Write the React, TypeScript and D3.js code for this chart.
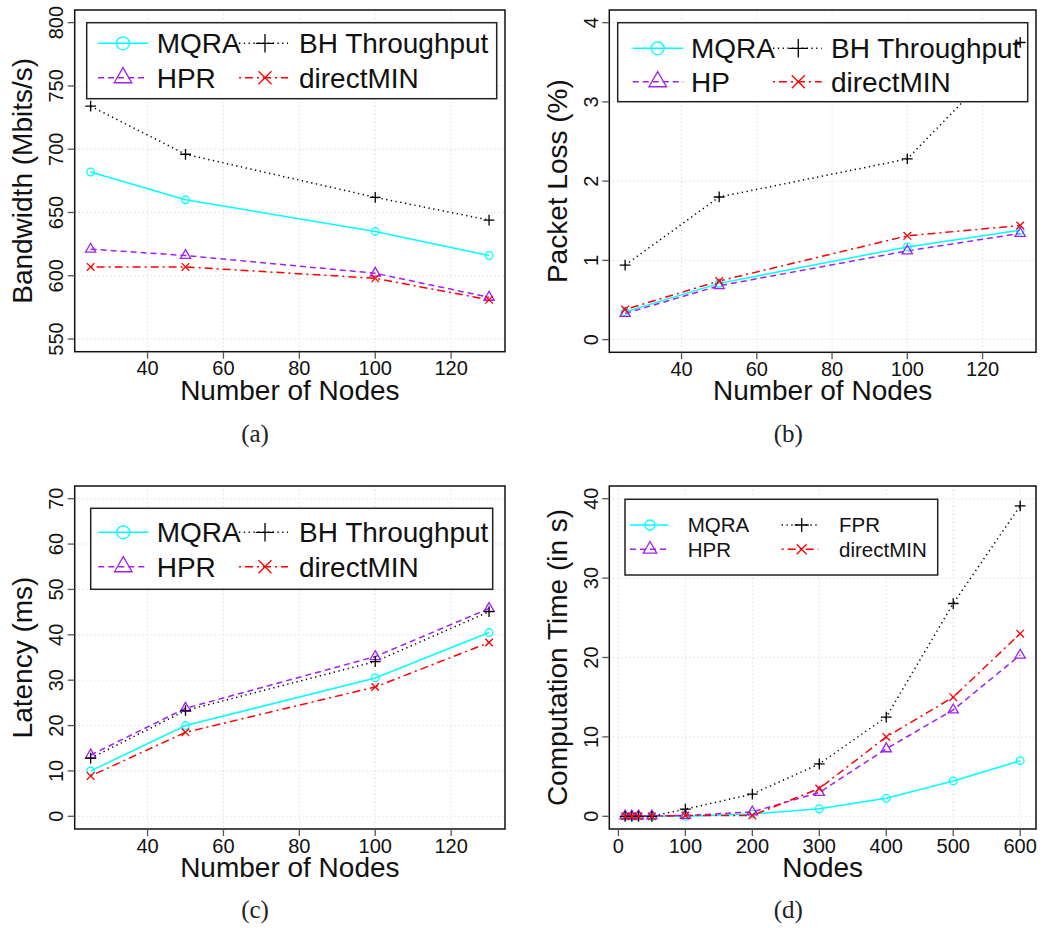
import React from "react";
import * as d3 from "d3";

// ---------- data ----------
const nodes = [25, 50, 100, 130];
const nodesComp = [10, 20, 30, 50, 100, 200, 300, 400, 500, 600];

const bwMQRA = [682, 660, 635, 616];
const bwHPR = [621, 616, 602, 583];
const bwBH = [734, 696, 662, 644];
const bwDirectMIN = [607, 607, 598, 581];

const plMQRA = [0.35, 0.71, 1.17, 1.38];
const plHP = [0.33, 0.68, 1.12, 1.34];
const plBH = [0.94, 1.8, 2.28, 3.75];
const plDirectMIN = [0.38, 0.74, 1.31, 1.44];

const latMQRA = [10, 20, 30.5, 40.5];
const latHPR = [13.5, 23.8, 35.2, 45.8];
const latBH = [12.8, 23.3, 34.1, 45.1];
const latDirectMIN = [8.9, 18.5, 28.5, 38.3];

const ctMQRA = [0, 0, 0, 0, 0, 0.3, 0.95, 2.27, 4.45, 7.0];
const ctHPR = [0.05, 0.05, 0.05, 0.05, 0.1, 0.55, 3.0, 8.5, 13.4, 20.3];
const ctFPR = [0, 0, 0, 0, 0.9, 2.8, 6.6, 12.5, 26.8, 39.1];
const ctDirectMIN = [0, 0, 0, 0, 0.1, 0.1, 3.5, 10.0, 15.0, 23.0];

const xTicksNodes = [40, 60, 80, 100, 120];
const xTicksComp = [0, 100, 200, 300, 400, 500, 600];
const yTicksBW = [550, 600, 650, 700, 750, 800];
const yTicksPL = [0, 1, 2, 3, 4];
const yTicksLat = [0, 10, 20, 30, 40, 50, 60, 70];
const yTicksCT = [0, 10, 20, 30, 40];

// ---------- styles ----------
const STY = {
  mqra: { color: "#00FFFF", dash: "none", shape: "circle" },
  hpr: { color: "#A020F0", dash: "6,4", shape: "triangle" },
  bh: { color: "#000000", dash: "1.3,3.5", shape: "plus" },
  dm: { color: "#FF0000", dash: "2,4,8,4", shape: "cross" },
};

type Shape = "circle" | "triangle" | "plus" | "cross";

function Marker({ shape, x, y, s, color }: { shape: Shape; x: number; y: number; s: number; color: string }) {
  const sw = 1.3;
  if (shape === "circle") return <circle cx={x} cy={y} r={s} fill="none" stroke={color} strokeWidth={sw} />;
  if (shape === "triangle") {
    const r = 1.555 * s, xc = 1.347 * s, yc = 0.777 * s;
    return <polygon points={`${x},${y - r} ${x + xc},${y + yc} ${x - xc},${y + yc}`} fill="none" stroke={color} strokeWidth={sw} />;
  }
  if (shape === "plus") {
    const h = 1.414 * s;
    return <path d={`M${x - h},${y}H${x + h}M${x},${y - h}V${y + h}`} stroke={color} strokeWidth={sw} fill="none" />;
  }
  return <path d={`M${x - s},${y - s}L${x + s},${y + s}M${x - s},${y + s}L${x + s},${y - s}`} stroke={color} strokeWidth={sw} fill="none" />;
}

type SeriesDef = { name: string; values: number[]; style: { color: string; dash: string; shape: string } };

type LegendCfg = {
  l: number; t: number; r: number; b: number;
  rows: number[];
  cols: { x1: number; x2: number; mx: number; tx: number }[];
  font: number; s: number;
};

type PanelCfg = {
  box: { l: number; t: number; r: number; b: number };
  x: number[];
  xTicks: number[];
  ylim: [number, number];
  yTicks: number[];
  yTitle: string;
  xTitle: string;
  caption: string;
  captionX: number;
  captionY: number;
  series: SeriesDef[];
  legend: LegendCfg;
};

const FONT = "'Liberation Sans', Arial, Helvetica, sans-serif";

function Panel({ cfg }: { cfg: PanelCfg }) {
  const { box } = cfg;
  const xmin = d3.min(cfg.x)!, xmax = d3.max(cfg.x)!;
  const xr = xmax - xmin;
  const x = d3.scaleLinear().domain([xmin - 0.04 * xr, xmax + 0.04 * xr]).range([box.l, box.r]);
  const yr = cfg.ylim[1] - cfg.ylim[0];
  const y = d3.scaleLinear().domain([cfg.ylim[0] - 0.04 * yr, cfg.ylim[1] + 0.04 * yr]).range([box.b, box.t]);
  const line = d3.line<[number, number]>().x((d) => x(d[0])).y((d) => y(d[1]));
  const L = cfg.legend;
  const cx = (box.l + box.r) / 2, cy = (box.t + box.b) / 2;
  const legendOrder = [
    [cfg.series[0], cfg.series[1]],
    [cfg.series[2], cfg.series[3]],
  ];
  return (
    <g>
      {/* grid */}
      {cfg.xTicks.map((t) => (
        <line key={"gx" + t} x1={x(t)} x2={x(t)} y1={box.t} y2={box.b} stroke="#D3D3D3" strokeWidth={1} strokeDasharray="1,3" />
      ))}
      {cfg.yTicks.map((t) => (
        <line key={"gy" + t} x1={box.l} x2={box.r} y1={y(t)} y2={y(t)} stroke="#D3D3D3" strokeWidth={1} strokeDasharray="1,3" />
      ))}
      {/* series lines */}
      {cfg.series.map((s) => (
        <path
          key={"l" + s.name}
          d={line(cfg.x.map((xv, i) => [xv, s.values[i]] as [number, number])) || ""}
          fill="none"
          stroke={s.style.color}
          strokeWidth={1.5}
          strokeDasharray={s.style.dash}
        />
      ))}
      {/* legend */}
      <rect x={L.l} y={L.t} width={L.r - L.l} height={L.b - L.t} fill="#fff" stroke="#222" strokeWidth={1.5} />
      {legendOrder.map((col, ci) =>
        col.map((s, ri) => {
          const c = L.cols[ci];
          const ry = L.rows[ri];
          return (
            <g key={"lg" + s.name}>
              <line x1={c.x1} x2={c.x2} y1={ry} y2={ry} stroke={s.style.color} strokeWidth={1.5} strokeDasharray={s.style.dash} />
              <Marker shape={s.style.shape as Shape} x={c.mx} y={ry} s={L.s} color={s.style.color} />
              <text x={c.tx} y={ry + L.font * 0.358} fontSize={L.font} fontFamily={FONT} fill="#111">{s.name}</text>
            </g>
          );
        })
      )}
      {/* series markers */}
      {cfg.series.map((s) => (
        <g key={"m" + s.name}>
          {cfg.x.map((xv, i) => (
            <Marker key={i} shape={s.style.shape as Shape} x={x(xv)} y={y(s.values[i])} s={3.8} color={s.style.color} />
          ))}
        </g>
      ))}
      {/* box */}
      <rect x={box.l} y={box.t} width={box.r - box.l} height={box.b - box.t} fill="none" stroke="#111" strokeWidth={1.5} />
      {/* ticks */}
      {cfg.xTicks.map((t) => (
        <g key={"tx" + t}>
          <line x1={x(t)} x2={x(t)} y1={box.b} y2={box.b + 7} stroke="#555" strokeWidth={1.3} />
          <text x={x(t)} y={box.b + 23.5} textAnchor="middle" fontSize={20} fontFamily={FONT} fill="#111">{t}</text>
        </g>
      ))}
      {cfg.yTicks.map((t) => (
        <g key={"ty" + t}>
          <line x1={box.l - 7} x2={box.l} y1={y(t)} y2={y(t)} stroke="#555" strokeWidth={1.3} />
          <text transform={`translate(${box.l - 11.8},${y(t)}) rotate(-90)`} textAnchor="middle" fontSize={20} fontFamily={FONT} fill="#111">{t}</text>
        </g>
      ))}
      {/* titles */}
      <text x={cx} y={box.b + 48} textAnchor="middle" fontSize={28} fontFamily={FONT} fill="#111">{cfg.xTitle}</text>
      <text transform={`translate(${box.l - 42.8},${cy}) rotate(-90)`} textAnchor="middle" fontSize={28} fontFamily={FONT} fill="#111">{cfg.yTitle}</text>
      <text x={cfg.captionX} y={cfg.captionY} textAnchor="middle" fontSize={25} fontFamily="'Liberation Serif', 'Times New Roman', serif" fill="#222">{cfg.caption}</text>
    </g>
  );
}

const panels: PanelCfg[] = [
  {
    box: { l: 74.7, t: 10, r: 505, b: 351.7 },
    x: nodes,
    xTicks: xTicksNodes,
    ylim: [550, 800],
    yTicks: yTicksBW,
    yTitle: "Bandwidth (Mbits/s)",
    xTitle: "Number of Nodes",
    caption: "(a)",
    captionX: 255,
    captionY: 442,
    series: [
      { name: "MQRA", values: bwMQRA, style: STY.mqra },
      { name: "HPR", values: bwHPR, style: STY.hpr },
      { name: "BH Throughput", values: bwBH, style: STY.bh },
      { name: "directMIN", values: bwDirectMIN, style: STY.dm },
    ],
    legend: {
      l: 86.7, t: 22.7, r: 496.7, b: 98.7,
      rows: [43.3, 77.7],
      cols: [
        { x1: 98, x2: 148, mx: 123, tx: 156.7 },
        { x1: 239, x2: 288, mx: 265, tx: 299 },
      ],
      font: 28, s: 6.5,
    },
  },
  {
    box: { l: 609.3, t: 10, r: 1036, b: 352.3 },
    x: nodes,
    xTicks: xTicksNodes,
    ylim: [0, 4],
    yTicks: yTicksPL,
    yTitle: "Packet Loss (%)",
    xTitle: "Number of Nodes",
    caption: "(b)",
    captionX: 788.3,
    captionY: 442,
    series: [
      { name: "MQRA", values: plMQRA, style: STY.mqra },
      { name: "HP", values: plHP, style: STY.hpr },
      { name: "BH Throughput", values: plBH, style: STY.bh },
      { name: "directMIN", values: plDirectMIN, style: STY.dm },
    ],
    legend: {
      l: 617.7, t: 22.7, r: 1027.7, b: 101.7,
      rows: [48.3, 81.7],
      cols: [
        { x1: 632.7, x2: 683.3, mx: 657.7, tx: 691 },
        { x1: 773, x2: 821.7, mx: 798.3, tx: 831 },
      ],
      font: 28, s: 6.5,
    },
  },
  {
    box: { l: 74.7, t: 486, r: 505, b: 829 },
    x: nodes,
    xTicks: xTicksNodes,
    ylim: [0, 70],
    yTicks: yTicksLat,
    yTitle: "Latency (ms)",
    xTitle: "Number of Nodes",
    caption: "(c)",
    captionX: 255,
    captionY: 918,
    series: [
      { name: "MQRA", values: latMQRA, style: STY.mqra },
      { name: "HPR", values: latHPR, style: STY.hpr },
      { name: "BH Throughput", values: latBH, style: STY.bh },
      { name: "directMIN", values: latDirectMIN, style: STY.dm },
    ],
    legend: {
      l: 90.7, t: 508.3, r: 492.7, b: 589.3,
      rows: [532.3, 566.7],
      cols: [
        { x1: 98.3, x2: 148.3, mx: 123.3, tx: 156.7 },
        { x1: 239, x2: 288, mx: 265, tx: 299 },
      ],
      font: 28, s: 6.5,
    },
  },
  {
    box: { l: 609.3, t: 486, r: 1036, b: 829 },
    x: nodesComp,
    xTicks: xTicksComp,
    ylim: [0, 40],
    yTicks: yTicksCT,
    yTitle: "Computation Time (in s)",
    xTitle: "Nodes",
    caption: "(d)",
    captionX: 788.3,
    captionY: 918,
    series: [
      { name: "MQRA", values: ctMQRA, style: STY.mqra },
      { name: "HPR", values: ctHPR, style: STY.hpr },
      { name: "FPR", values: ctFPR, style: STY.bh },
      { name: "directMIN", values: ctDirectMIN, style: STY.dm },
    ],
    legend: {
      l: 625, t: 499.3, r: 937.7, b: 575,
      rows: [525, 549.3],
      cols: [
        { x1: 630, x2: 668.3, mx: 650, tx: 687.7 },
        { x1: 781.7, x2: 818.3, mx: 801.7, tx: 839 },
      ],
      font: 20.5, s: 5,
    },
  },
];

export default function App() {
  return (
    <svg
      width={1047}
      height={928}
      viewBox="0 0 1047 928"
      style={{ position: "absolute", left: 0, top: 0, background: "#fff" }}
    >
      <rect x={0} y={0} width={1047} height={928} fill="#fff" />
      {panels.map((p, i) => (
        <Panel key={i} cfg={p} />
      ))}
    </svg>
  );
}
